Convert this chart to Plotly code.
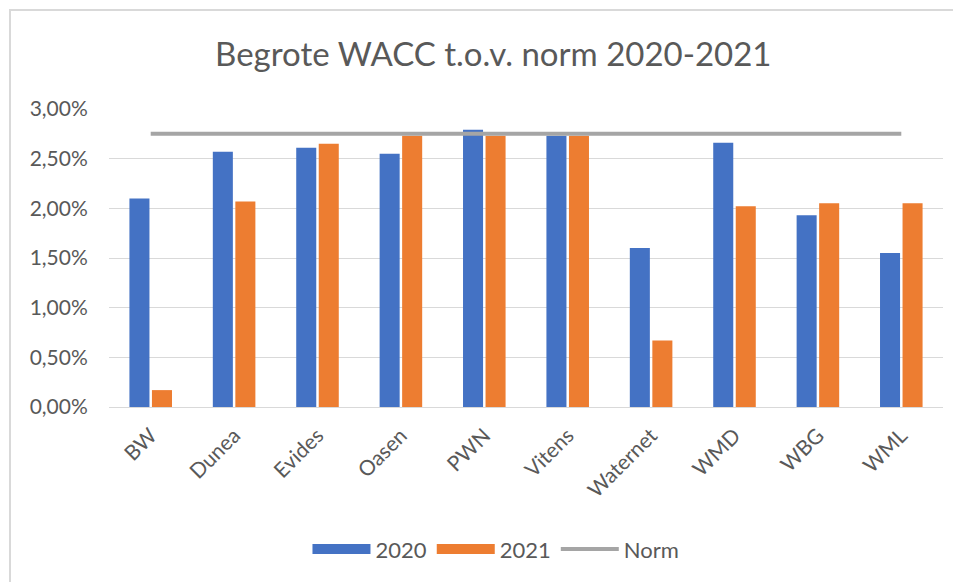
import plotly.graph_objects as go

categories = ["BW", "Dunea", "Evides", "Oasen", "PWN", "Vitens", "Waternet", "WMD", "WBG", "WML"]
wacc_2020 = [0.0210, 0.0257, 0.0261, 0.0255, 0.0279, 0.0273, 0.0160, 0.0266, 0.0193, 0.0155]
wacc_2021 = [0.0017, 0.0207, 0.0265, 0.0273, 0.0273, 0.0273, 0.0067, 0.0202, 0.0205, 0.0205]
norm = [0.0275] * len(categories)

FONT = "Lato"
GREY_TEXT = "#595959"
BLUE, ORANGE, GREY = "#4472C4", "#ED7D31", "#A5A5A5"

fig = go.Figure()
fig.add_trace(go.Bar(x=categories, y=wacc_2020, name="2020", marker_color=BLUE,
                     marker_line_width=0, showlegend=False))
fig.add_trace(go.Bar(x=categories, y=wacc_2021, name="2021", marker_color=ORANGE,
                     marker_line_width=0, showlegend=False))
fig.add_trace(go.Scatter(x=categories, y=norm, name="Norm", mode="lines",
                         line=dict(color=GREY, width=4), showlegend=False))
# legend entries (Excel-style wide swatches)
fig.add_trace(go.Scatter(x=[None], y=[None], mode="lines", name="2020",
                         line=dict(color=BLUE, width=13)))
fig.add_trace(go.Scatter(x=[None], y=[None], mode="lines", name="2021",
                         line=dict(color=ORANGE, width=13)))
fig.add_trace(go.Scatter(x=[None], y=[None], mode="lines", name="Norm",
                         line=dict(color=GREY, width=4)))

# Chart border (left/top visible)
fig.add_shape(type="rect", xref="paper", yref="paper", x0=-0.1187, x1=1.2, y0=-0.8, y1=1.332,
              line=dict(color="#D9D9D9", width=2), fillcolor="rgba(0,0,0,0)", layer="below")

fig.update_layout(
    width=961, height=582,
    margin=dict(l=101, r=26, t=101, b=183),
    paper_bgcolor="white", plot_bgcolor="white",
    separators=",.",
    font=dict(family=FONT, color=GREY_TEXT, size=18),
    title=dict(text="Begrote WACC t.o.v. norm 2020-2021", x=0.505, xanchor="center",
               y=1 - 46 / 582, yanchor="middle",
               font=dict(family=FONT, size=33, color=GREY_TEXT)),
    barmode="group", bargap=0.46, bargroupgap=0.11,
    showlegend=True,
    legend=dict(orientation="h", x=0.464, xanchor="center", y=-0.477, yanchor="middle",
                font=dict(size=22, color=GREY_TEXT), traceorder="normal", itemwidth=58),
    xaxis=dict(showline=True, linecolor="#D9D9D9", linewidth=1, tickangle=-45,
               ticks="outside", ticklen=7, tickcolor="rgba(0,0,0,0)",
               tickfont=dict(size=21, color=GREY_TEXT)),
    yaxis=dict(range=[0, 0.03], dtick=0.005, tickformat=".2%", showgrid=True,
               gridcolor="#D9D9D9", gridwidth=1, zeroline=False,
               ticks="outside", ticklen=16, tickcolor="rgba(0,0,0,0)",
               tickfont=dict(size=21, color=GREY_TEXT)),
)

fig.write_html("out.html")
